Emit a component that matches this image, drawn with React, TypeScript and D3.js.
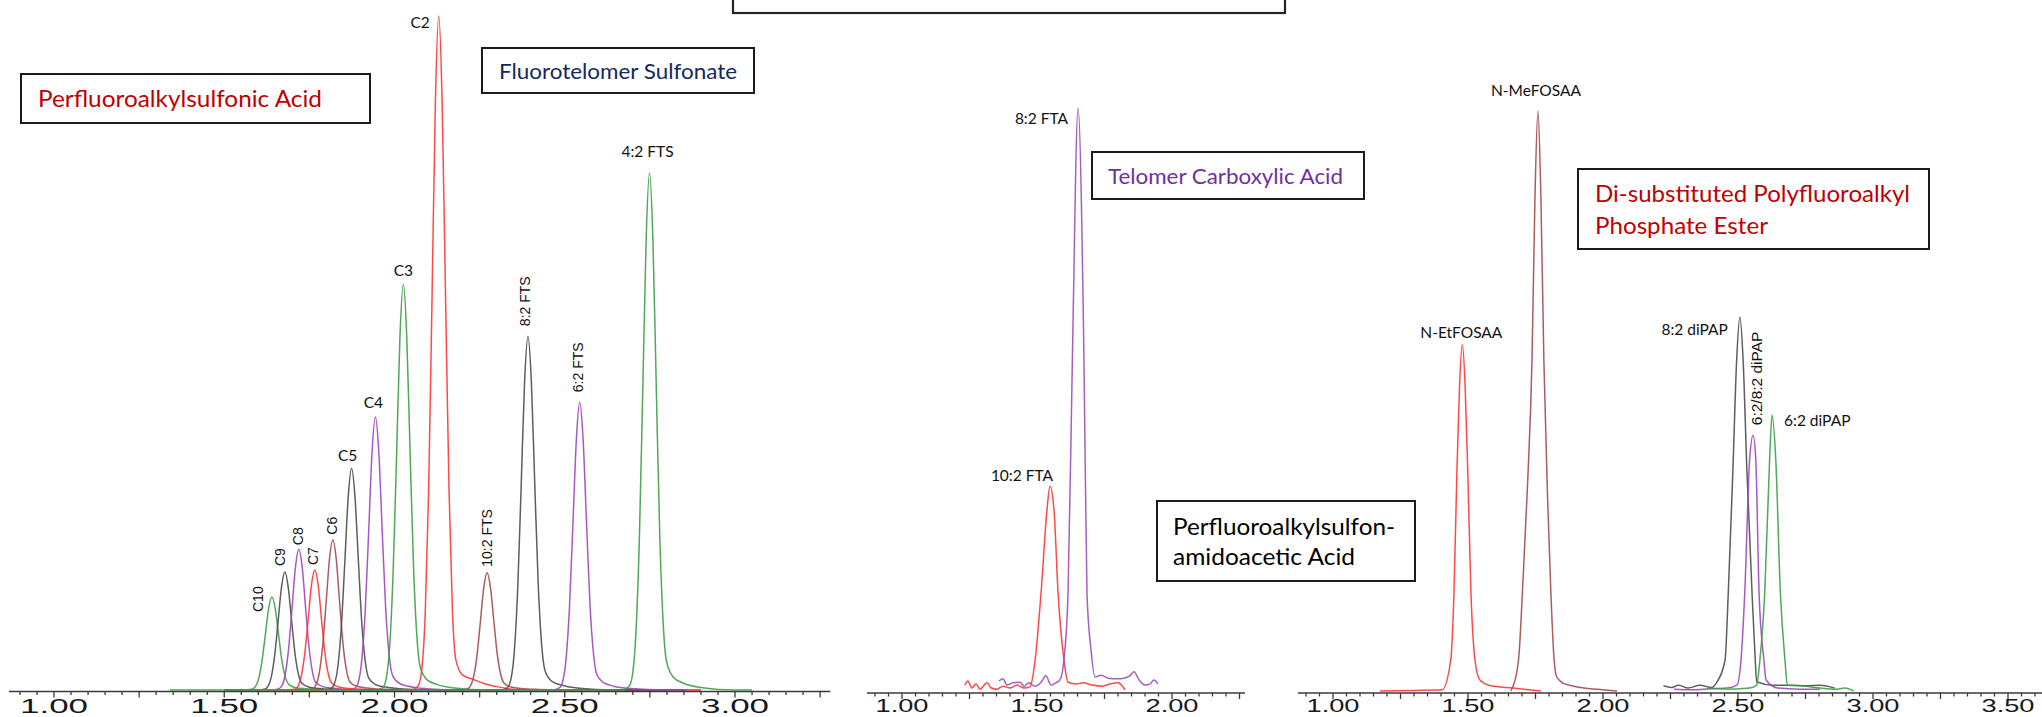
import React from 'react';
import * as d3 from 'd3';

type Pt = [number, number];

// ---------- Panel 1: perfluoroalkylsulfonic acids + fluorotelomer sulfonates ----------
// [retention time (min), relative response (%)]
const pfsaC10: Pt[] = [[1.34,0],[1.56,0],[1.58,0.1],[1.59,0.4],[1.60,1.5],[1.61,4.0],[1.62,7.9],[1.63,12.0],[1.64,13.8],[1.65,12.0],[1.66,8.0],[1.67,4.1],[1.68,1.8],[1.69,0.8],[1.71,0.35],[1.74,0.2],[1.79,0.07],[1.89,0],[2.4,0]];
const pfsaC9: Pt[] = [[1.5,0],[1.598,0],[1.618,0.1],[1.628,0.5],[1.638,1.9],[1.648,5.1],[1.658,10.1],[1.668,15.2],[1.678,17.5],[1.688,15.2],[1.698,10.2],[1.708,5.3],[1.718,2.3],[1.728,1.0],[1.748,0.44],[1.778,0.23],[1.828,0.09],[1.928,0],[2.6,0]];
const pfsaC8: Pt[] = [[1.55,0],[1.639,0],[1.659,0.15],[1.669,0.6],[1.679,2.3],[1.689,6.1],[1.699,12.0],[1.709,18.2],[1.719,20.9],[1.729,18.2],[1.739,12.1],[1.749,6.3],[1.759,2.7],[1.769,1.1],[1.789,0.5],[1.819,0.27],[1.869,0.1],[1.969,0],[2.85,0]];
const pfsaC7: Pt[] = [[1.6,0],[1.686,0],[1.706,0.1],[1.716,0.5],[1.726,2.0],[1.736,5.2],[1.746,10.2],[1.756,15.5],[1.766,17.8],[1.776,15.5],[1.786,10.3],[1.796,5.3],[1.806,2.3],[1.816,1.0],[1.836,0.45],[1.866,0.23],[1.916,0.09],[2.016,0],[2.5,0]];
const pfsaC6: Pt[] = [[1.65,0],[1.739,0],[1.759,0.16],[1.769,0.7],[1.779,2.5],[1.789,6.5],[1.799,12.8],[1.809,19.4],[1.819,22.3],[1.829,19.4],[1.839,12.9],[1.849,6.7],[1.859,2.9],[1.869,1.2],[1.889,0.56],[1.919,0.29],[1.969,0.11],[2.069,0],[2.6,0]];
const pfsaC5: Pt[] = [[1.7,0],[1.794,0],[1.814,0.23],[1.824,1.0],[1.834,3.6],[1.844,9.5],[1.854,18.9],[1.864,28.6],[1.874,32.9],[1.884,28.6],[1.894,19.1],[1.904,9.9],[1.914,4.3],[1.924,1.8],[1.944,0.8],[1.974,0.43],[2.024,0.16],[2.124,0],[2.7,0]];
const pfsaC4: Pt[] = [[1.75,0],[1.864,0],[1.884,0.28],[1.894,1.2],[1.904,4.5],[1.914,11.7],[1.924,23.3],[1.934,35.2],[1.944,40.5],[1.954,35.2],[1.964,23.5],[1.974,12.2],[1.984,5.3],[1.994,2.2],[2.014,1.0],[2.044,0.53],[2.094,0.2],[2.194,0],[2.8,0]];
const pfsaC3: Pt[] = [[1.5,0],[1.946,0],[1.966,0.4],[1.976,1.8],[1.986,6.6],[1.996,17.5],[2.006,34.6],[2.016,52.4],[2.026,60.2],[2.036,52.4],[2.046,34.9],[2.056,18.1],[2.066,7.8],[2.076,3.3],[2.096,1.5],[2.126,0.8],[2.176,0.3],[2.276,0],[2.9,0]];
const pfsaC2: Pt[] = [[1.6,0],[2.05,0],[2.07,0.7],[2.08,3.0],[2.09,11],[2.10,29],[2.11,57.5],[2.12,87],[2.13,100],[2.14,87],[2.15,58],[2.16,30],[2.17,12],[2.18,4.5],[2.20,2.2],[2.23,1.6],[2.26,1.0],[2.30,0.5],[2.38,0],[2.9,0]];
const fts102: Pt[] = [[1.9,0],[2.192,0],[2.212,0.1],[2.222,0.5],[2.232,1.9],[2.242,5.0],[2.252,10.0],[2.262,15.1],[2.272,17.4],[2.282,15.1],[2.292,10.1],[2.302,5.2],[2.312,2.3],[2.322,1.0],[2.342,0.44],[2.372,0.23],[2.422,0.09],[2.522,0],[2.8,0]];
const fts82: Pt[] = [[1.9,0],[2.312,0],[2.332,0.37],[2.342,1.6],[2.352,5.8],[2.362,15.2],[2.372,30.2],[2.382,45.7],[2.392,52.5],[2.402,45.7],[2.412,30.5],[2.422,15.8],[2.432,6.8],[2.442,2.9],[2.462,1.3],[2.492,0.7],[2.542,0.26],[2.642,0],[2.85,0]];
const fts62: Pt[] = [[2.0,0],[2.464,0],[2.484,0.3],[2.494,1.3],[2.504,4.7],[2.514,12.4],[2.524,24.6],[2.534,37.1],[2.544,42.7],[2.554,37.1],[2.564,24.8],[2.574,12.8],[2.584,5.6],[2.594,2.3],[2.614,1.1],[2.644,0.56],[2.694,0.21],[2.794,0],[2.86,0]];
const fts42: Pt[] = [[1.6,0],[2.669,0],[2.689,0.54],[2.699,2.3],[2.709,8.4],[2.719,22.2],[2.729,44.1],[2.739,66.7],[2.749,76.7],[2.759,66.7],[2.769,44.5],[2.779,23.0],[2.789,10.0],[2.799,4.2],[2.819,1.9],[2.849,1.0],[2.899,0.38],[2.999,0],[3.05,0]];

// ---------- Panel 2: fluorotelomer carboxylic acids ----------
const fta102: Pt[] = [[1.233,0.5],[1.244,1.2],[1.259,0],[1.274,0.7],[1.289,-0.2],[1.315,0.9],[1.330,0],[1.352,-0.2],[1.374,0.3],[1.400,0],[1.426,0.5],[1.452,0],[1.474,0.2],[1.493,4.8],[1.515,16.4],[1.537,30.7],[1.548,34.8],[1.563,30.7],[1.578,16.4],[1.600,4.8],[1.615,1.0],[1.644,0.7],[1.670,0.9],[1.704,0.5],[1.741,0.3],[1.770,0.7],[1.800,0.9],[1.826,-0.3]];
const fta82: Pt[] = [[1.359,1.2],[1.374,1.6],[1.389,0.5],[1.411,0.9],[1.437,1.0],[1.452,0.3],[1.470,0.9],[1.493,0.3],[1.515,1.0],[1.533,2.1],[1.552,0.5],[1.570,0.9],[1.585,1.4],[1.600,5.0],[1.615,16.4],[1.631,56.6],[1.652,100],[1.674,56.6],[1.685,16.4],[1.700,6.6],[1.715,1.9],[1.737,2.2],[1.763,1.7],[1.796,1.6],[1.822,1.7],[1.844,2.1],[1.859,2.8],[1.878,1.4],[1.900,0.5],[1.919,0.7],[1.933,1.4],[1.948,0.7]];

// ---------- Panel 3: FOSAAs + diPAPs ----------
const netfosaa: Pt[] = [[1.174,0],[1.300,0.1],[1.404,0.2],[1.436,5.3],[1.448,16.9],[1.459,38],[1.469,53],[1.479,59.7],[1.489,53],[1.499,38],[1.511,16.9],[1.526,5.3],[1.544,1.9],[1.578,1.0],[1.667,0.5],[1.770,0]];
const nmefosaa: Pt[] = [[1.659,0],[1.687,5.3],[1.7015,16.9],[1.72,35],[1.737,57],[1.748,85],[1.759,100],[1.770,85],[1.781,57],[1.795,33],[1.807,16.9],[1.818,6],[1.828,2.5],[1.85,1.4],[1.884,0.9],[1.93,0.5],[1.98,0.3],[2.052,0]];
const dipap82: Pt[] = [[2.224,0.9],[2.254,0.6],[2.280,1.0],[2.315,0.5],[2.359,1.0],[2.403,0.6],[2.420,1.4],[2.452,5.3],[2.464,16.9],[2.481,38],[2.495,57],[2.507,64.5],[2.519,57],[2.533,38],[2.552,16.9],[2.564,5.3],[2.569,1.6],[2.630,1.0],[2.693,1.0],[2.752,0.9],[2.804,1.0],[2.859,0.5]];
const dipap6282: Pt[] = [[2.263,0.3],[2.33,0.2],[2.40,0.4],[2.46,0.5],[2.496,1.0],[2.511,5.3],[2.525,16.9],[2.543,39.8],[2.556,44.1],[2.566,39.8],[2.578,16.9],[2.596,5.3],[2.604,1.9],[2.648,0.5],[2.730,0.3],[2.804,0.3]];
const dipap62: Pt[] = [[2.385,0.5],[2.470,0.3],[2.544,0.5],[2.569,1.0],[2.581,5.3],[2.599,16.9],[2.617,39.8],[2.626,47.6],[2.640,39.8],[2.657,16.9],[2.674,5.3],[2.683,1.0],[2.730,0.9],[2.806,0.5],[2.859,0.3],[2.896,0.5],[2.928,0]];

// Tick labels (minutes)
const ticksPanel1 = ['1.00', '1.50', '2.00', '2.50', '3.00'];
const ticksPanel2 = ['1.00', '1.50', '2.00'];
const ticksPanel3 = ['1.00', '1.50', '2.00', '2.50', '3.00', '3.50'];

// Trace colours
const GREEN = '#3d9e46';
const GREY = '#4d4d4d';
const PURPLE = '#a046bb';
const RED = '#ff3535';
const BROWN = '#a24a4c';

type Trace = { label: string; color: string; pts: Pt[] };

const panel1Traces: Trace[] = [
  { label: 'C10', color: GREEN, pts: pfsaC10 },
  { label: 'C9', color: GREY, pts: pfsaC9 },
  { label: 'C8', color: PURPLE, pts: pfsaC8 },
  { label: 'C7', color: RED, pts: pfsaC7 },
  { label: 'C6', color: BROWN, pts: pfsaC6 },
  { label: 'C5', color: GREY, pts: pfsaC5 },
  { label: 'C4', color: PURPLE, pts: pfsaC4 },
  { label: 'C3', color: GREEN, pts: pfsaC3 },
  { label: 'C2', color: RED, pts: pfsaC2 },
  { label: '10:2 FTS', color: BROWN, pts: fts102 },
  { label: '8:2 FTS', color: GREY, pts: fts82 },
  { label: '6:2 FTS', color: PURPLE, pts: fts62 },
  { label: '4:2 FTS', color: GREEN, pts: fts42 },
];

const panel2Traces: Trace[] = [
  { label: '10:2 FTA', color: RED, pts: fta102 },
  { label: '8:2 FTA', color: '#9b4fb5', pts: fta82 },
];

const panel3Traces: Trace[] = [
  { label: 'N-EtFOSAA', color: RED, pts: netfosaa },
  { label: 'N-MeFOSAA', color: BROWN, pts: nmefosaa },
  { label: '8:2 diPAP', color: GREY, pts: dipap82 },
  { label: '6:2/8:2 diPAP', color: PURPLE, pts: dipap6282 },
  { label: '6:2 diPAP', color: GREEN, pts: dipap62 },
];

// Peak label placement relative to each apex
type LabelStyle = { dx: number; dy: number; anchor?: 'start' | 'middle' | 'end'; rotate?: boolean; size?: number };
const labelStyle: Record<string, LabelStyle> = {
  'C2': { dx: -9, dy: 11.5, anchor: 'end' },
  'C3': { dx: 0, dy: -8 },
  'C4': { dx: -2, dy: -9.5 },
  'C5': { dx: -4, dy: -7 },
  '4:2 FTS': { dx: -2, dy: -16.5 },
  'C10': { dx: -14, dy: 15, rotate: true },
  'C9': { dx: -5, dy: -6, rotate: true },
  'C8': { dx: -1, dy: -4, rotate: true },
  'C7': { dx: -2, dy: -5, rotate: true },
  'C6': { dx: -1, dy: -5, rotate: true },
  '10:2 FTS': { dx: 0, dy: -6, rotate: true },
  '8:2 FTS': { dx: -3, dy: -10, rotate: true },
  '6:2 FTS': { dx: -2, dy: -10, rotate: true },
  '8:2 FTA': { dx: -10, dy: 15.5, anchor: 'end' },
  '10:2 FTA': { dx: -28, dy: -5 },
  'N-MeFOSAA': { dx: -2, dy: -15.5 },
  'N-EtFOSAA': { dx: -1, dy: -7 },
  '8:2 diPAP': { dx: -12, dy: 18.5, anchor: 'end' },
  '6:2/8:2 diPAP': { dx: 3.5, dy: -10, rotate: true, size: 15.5 },
  '6:2 diPAP': { dx: 12, dy: 11.5, anchor: 'start' },
};

const ARIAL = "'Liberation Sans', Arial, sans-serif";
const HUMAN = "Lato, 'Open Sans', sans-serif";

type Scale = d3.ScaleLinear<number, number>;

function TracePath({ t, x, y }: { t: Trace; x: Scale; y: Scale }) {
  const line = d3.line<Pt>().x((d) => x(d[0])).y((d) => y(d[1])).curve(d3.curveMonotoneX);
  return (
    <path d={line(t.pts) || ''} fill="none" stroke={t.color} strokeWidth={1.5}
      strokeOpacity={0.9} strokeLinejoin="round" />
  );
}

function PeakLabel({ t, x, y }: { t: Trace; x: Scale; y: Scale }) {
  const apex = t.pts.reduce((a, b) => (b[1] > a[1] ? b : a));
  const s = labelStyle[t.label];
  const px = x(apex[0]) + s.dx;
  const py = y(apex[1]) + s.dy;
  if (s.rotate) {
    return (
      <text transform={`translate(${px},${py}) rotate(-90)`} textAnchor="start" dy="0.35em"
        fontFamily={ARIAL} fontSize={s.size ?? 14} fill="#111">{t.label}</text>
    );
  }
  return (
    <text x={px} y={py} textAnchor={s.anchor ?? 'middle'} fontFamily={HUMAN}
      fontSize={15.5} fill="#111">{t.label}</text>
  );
}

function TimeAxis({ x, y0, from, to, labels, fontSize, labelWidth, baseline }: {
  x: Scale; y0: number; from: number; to: number; labels: string[];
  fontSize: number; labelWidth: number; baseline: number;
}) {
  const steps = d3.range(Math.ceil(from / 0.05 - 1e-9), Math.floor(to / 0.05 + 1e-9) + 1);
  return (
    <g>
      <line x1={x(from)} x2={x(to)} y1={y0} y2={y0} stroke="#3a3a3a" strokeWidth={1.6} />
      {steps.map((i) => {
        const long = i % 5 === 0;
        const px = x(i * 0.05);
        return <line key={i} x1={px} x2={px} y1={y0} y2={y0 + (long ? 6 : 3.5)} stroke="#3a3a3a" strokeWidth={1.3} />;
      })}
      {labels.map((l) => (
        <text key={l} x={x(parseFloat(l))} y={baseline} textAnchor="middle" fontFamily={ARIAL}
          fontSize={fontSize} fill="#151820" textLength={labelWidth} lengthAdjust="spacingAndGlyphs">{l}</text>
      ))}
    </g>
  );
}

type Box = {
  x: number; y: number; w: number; h: number; lines: string[]; widths: number[];
  baselines: number[]; tx: number; color: string; size: number;
};

const boxes: Box[] = [
  { x: 21, y: 74, w: 349, h: 49, lines: ['Perfluoroalkylsulfonic Acid'], widths: [284], baselines: [107], tx: 38, color: '#c00000', size: 23.5 },
  { x: 482, y: 48, w: 272, h: 45, lines: ['Fluorotelomer Sulfonate'], widths: [238], baselines: [79], tx: 499, color: '#13295e', size: 21.6 },
  { x: 1092, y: 152, w: 272, h: 47, lines: ['Telomer Carboxylic Acid'], widths: [235], baselines: [184], tx: 1108, color: '#7030a0', size: 21.6 },
  { x: 1157, y: 501, w: 258, h: 80, lines: ['Perfluoroalkylsulfon-', 'amidoacetic Acid'], widths: [222, 182], baselines: [535, 565], tx: 1173, color: '#000', size: 23.5 },
  { x: 1578, y: 169, w: 351, h: 80, lines: ['Di-substituted Polyfluoroalkyl', 'Phosphate Ester'], widths: [315, 173], baselines: [202, 234], tx: 1595, color: '#c00000', size: 23.5 },
];

export default function App() {
  React.useEffect(() => {
    document.body.style.margin = '0';
    document.body.style.overflow = 'hidden';
  }, []);

  // Panel scales: retention time -> px, relative response -> px
  const x1 = d3.scaleLinear().domain([1, 3]).range([54, 735]);
  const y1 = d3.scaleLinear().domain([0, 100]).range([690, 16]);
  const x2 = d3.scaleLinear().domain([1, 2]).range([902, 1172]);
  const y2 = d3.scaleLinear().domain([0, 100]).range([688, 108]);
  const x3 = d3.scaleLinear().domain([1, 3.5]).range([1333, 2008]);
  const y3 = d3.scaleLinear().domain([0, 100]).range([691, 111]);

  const panels = [
    { traces: panel1Traces, x: x1, y: y1 },
    { traces: panel2Traces, x: x2, y: y2 },
    { traces: panel3Traces, x: x3, y: y3 },
  ];

  return (
    <div style={{ position: 'absolute', left: 0, top: 0, width: 2042, height: 717, overflow: 'hidden', background: '#fff' }}>
      <svg width={2042} height={717} style={{ display: 'block' }}>
        <rect x={0} y={0} width={2042} height={717} fill="#fff" />

        <TimeAxis x={x1} y0={691.5} from={0.868} to={3.28} labels={ticksPanel1} fontSize={19.5} labelWidth={68} baseline={712.5} />
        <TimeAxis x={x2} y0={693} from={0.87} to={2.27} labels={ticksPanel2} fontSize={18.5} labelWidth={53} baseline={711.5} />
        <TimeAxis x={x3} y0={693} from={0.87} to={3.63} labels={ticksPanel3} fontSize={18.5} labelWidth={53} baseline={712} />

        {panels.map((p, i) => (
          <g key={i}>
            {p.traces.map((t) => <TracePath key={t.label} t={t} x={p.x} y={p.y} />)}
            {p.traces.map((t) => <PeakLabel key={t.label} t={t} x={p.x} y={p.y} />)}
          </g>
        ))}

        {/* Header frame running off the top edge */}
        <rect x={733} y={-10} width={552} height={23} fill="#fff" stroke="#262626" strokeWidth={2.2} />

        {boxes.map((b, i) => (
          <g key={i}>
            <rect x={b.x} y={b.y} width={b.w} height={b.h} fill="#fff" stroke="#1c1c1c" strokeWidth={2} />
            {b.lines.map((l, j) => (
              <text key={j} x={b.tx} y={b.baselines[j]} fontFamily={HUMAN} fontSize={b.size} fill={b.color}
                textLength={b.widths[j]} lengthAdjust="spacingAndGlyphs">{l}</text>
            ))}
          </g>
        ))}
      </svg>
    </div>
  );
}
